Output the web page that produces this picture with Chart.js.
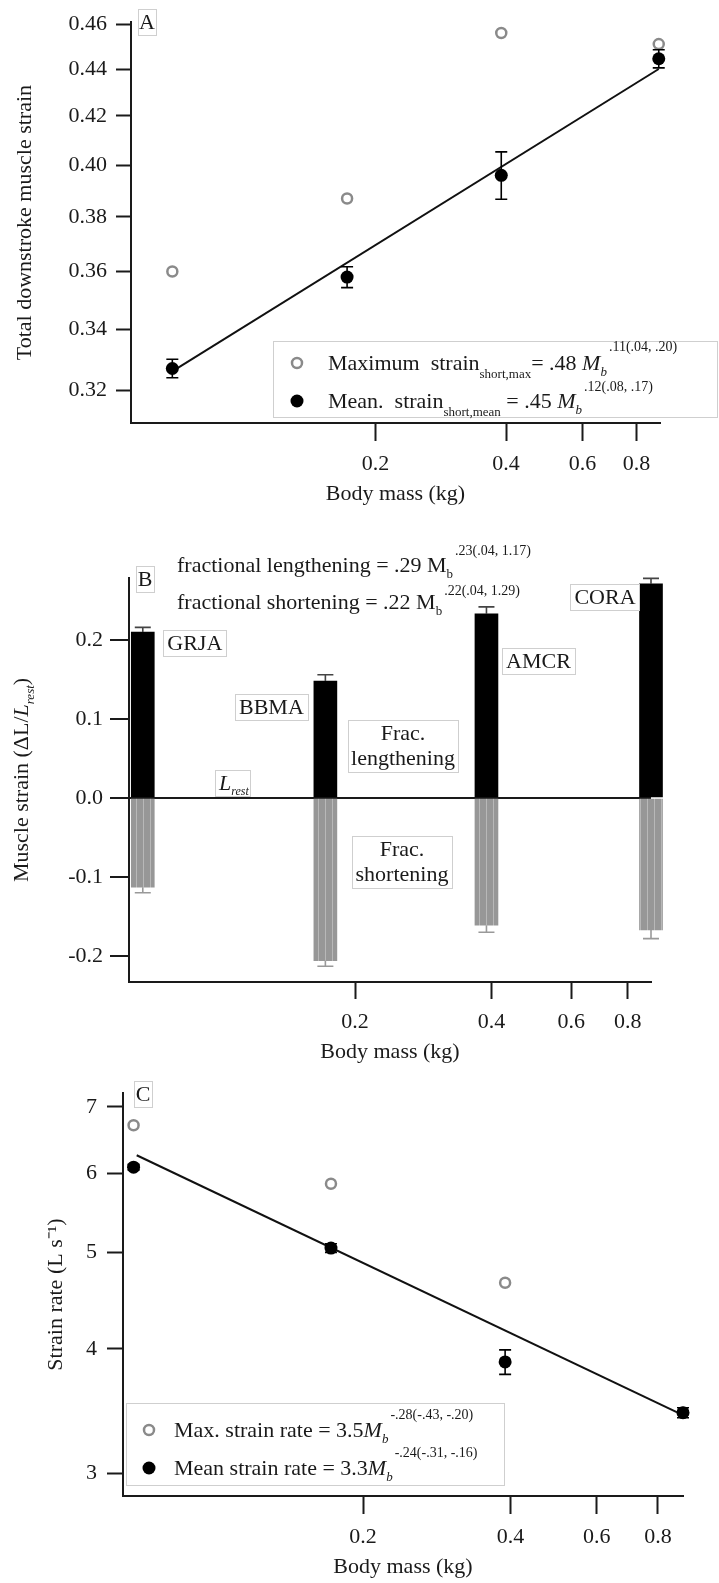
<!DOCTYPE html>
<html>
<head>
<meta charset="utf-8">
<script src="https://cdn.jsdelivr.net/npm/chart.js@4.4.0/dist/chart.umd.min.js"></script>
<style>
  body { margin: 0; background: #fff; }
  #wrap { position: relative; width: 719px; height: 1583px; }
  canvas { position: absolute; left: 0; }
</style>
</head>
<body>
<div id="wrap">
  <canvas id="chartA" width="719" height="515" style="top:0"></canvas>
  <canvas id="chartB" width="719" height="570" style="top:500px"></canvas>
  <canvas id="chartC" width="719" height="523" style="top:1060px"></canvas>
</div>
<script>
const bodyMass = [0.068, 0.172, 0.39, 0.9]
const species = ['GRJA', 'BBMA', 'AMCR', 'CORA']
const massTicks = [0.2, 0.4, 0.6, 0.8]

// A - total downstroke strain
const maxStrain = [0.360, 0.387, 0.456, 0.451]
const meanStrain = [0.327, 0.358, 0.396, 0.4445]
const meanStrainErr = [0.003, 0.0037, 0.0093, 0.004]
const strainFitMass = [0.069, 0.9]
const strainFit = [0.3266, 0.440]
const strainTicks = [0.32, 0.34, 0.36, 0.38, 0.40, 0.42, 0.44, 0.46]

// B - fractional lengthening / shortening
const fracLengthening = [0.210, 0.148, 0.233, 0.271]
const fracLengtheningErr = [0.006, 0.008, 0.009, 0.007]
const fracShortening = [-0.113, -0.206, -0.161, -0.167]
const fracShorteningErr = [0.007, 0.007, 0.009, 0.011]
const muscleStrainTicks = [-0.2, -0.1, 0, 0.1, 0.2]

// C - strain rate
const maxRate = [6.71, 5.86, 4.66, 3.45]
const meanRate = [6.09, 5.05, 3.88, 3.45]
const meanRateErr = [0.04, 0.05, 0.11, 0.04]
const rateFitMass = [0.069, 0.9]
const rateFit = [6.26, 3.43]
const rateTicks = [3, 4, 5, 6, 7]

const FONT = '"Liberation Serif", "Times New Roman", serif'
const INK = '#1a1a1a'
const FRAME = '#cfcfcf'
const OPEN_GREY = '#8a8a8a'

const pts = (xs, ys) => xs.map((x, i) => ({ x: x, y: ys[i] }))

function axis(o) {
    return {
        type: o.type, min: o.min, max: o.max, bounds: 'data', offset: false,
        afterBuildTicks: s => { s.ticks = o.ticks.map(v => ({ value: v })) },
        afterFit: s => { if (s.isHorizontal()) s.height = o.size; else s.width = o.size },
        border: { display: true, color: INK, width: 2 },
        grid: Object.assign({ offset: false, drawOnChartArea: false, tickLength: o.tickLength, tickColor: INK, tickWidth: 2 }, o.grid || {}),
        ticks: { padding: o.pad, color: INK, font: { family: FONT, size: 22 }, autoSkip: false, maxRotation: 0, callback: o.fmt },
        title: o.title
            ? { display: true, text: o.title, color: INK, font: { family: FONT, size: 22 }, padding: o.titlePad }
            : { display: false }
    }
}

function textRuns(ctx, x, y, parts) {
    ctx.save()
    ctx.fillStyle = INK
    ctx.textAlign = 'left'
    ctx.textBaseline = 'alphabetic'
    for (const [t, size = 22, dy = 0, italic = false] of parts) {
        ctx.font = (italic ? 'italic ' : '') + size + 'px ' + FONT
        ctx.fillText(t, x, y + dy)
        x += ctx.measureText(t).width
    }
    ctx.restore()
    return x
}

function runsWidth(ctx, parts) {
    ctx.save()
    let w = 0
    for (const [t, size = 22, dy = 0, italic = false] of parts) {
        ctx.font = (italic ? 'italic ' : '') + size + 'px ' + FONT
        w += ctx.measureText(t).width
    }
    ctx.restore()
    return w
}

function frame(ctx, x, y, w, h) {
    ctx.save()
    ctx.strokeStyle = FRAME
    ctx.lineWidth = 1
    ctx.strokeRect(Math.round(x) + 0.5, Math.round(y) + 0.5, Math.round(w), Math.round(h))
    ctx.restore()
}

function boxedLines(ctx, lines, cx, cy, w, h) {
    frame(ctx, cx - w / 2, cy - h / 2, w, h)
    ctx.save()
    ctx.fillStyle = INK
    ctx.font = '22px ' + FONT
    ctx.textAlign = 'center'
    ctx.textBaseline = 'middle'
    const gap = 25
    lines.forEach((t, i) => ctx.fillText(t, cx, cy + (i - (lines.length - 1) / 2) * gap + 1))
    ctx.restore()
}

function panelLetter(ctx, t, cx, cy) {
    boxedLines(ctx, [t], cx, cy, 18, 26)
}

function legendMarker(ctx, x, y, filled) {
    ctx.save()
    ctx.beginPath()
    if (filled) {
        ctx.arc(x, y, 6.5, 0, Math.PI * 2)
        ctx.fillStyle = '#000'
        ctx.fill()
    } else {
        ctx.arc(x, y, 5, 0, Math.PI * 2)
        ctx.strokeStyle = OPEN_GREY
        ctx.lineWidth = 2.5
        ctx.stroke()
    }
    ctx.restore()
}

function errorBars(sets) {
    return {
        id: 'errorBars',
        afterDatasetsDraw(chart) {
            const { ctx, scales: { x, y } } = chart
            ctx.save()
            sets.forEach(s => {
                ctx.strokeStyle = s.color
                ctx.lineWidth = 1.6
                s.mass.forEach((m, i) => {
                    const px = x.getPixelForValue(m)
                    const v = s.values[i], e = s.errs[i]
                    const top = y.getPixelForValue(s.side === 'down' ? v : v + e)
                    const bot = y.getPixelForValue(s.side === 'up' ? v : v - e)
                    ctx.beginPath()
                    ctx.moveTo(px, top)
                    ctx.lineTo(px, bot)
                    if (s.side !== 'down') { ctx.moveTo(px - s.cap, top); ctx.lineTo(px + s.cap, top) }
                    if (s.side !== 'up') { ctx.moveTo(px - s.cap, bot); ctx.lineTo(px + s.cap, bot) }
                    ctx.stroke()
                })
            })
            ctx.restore()
        }
    }
}

function greyStripes() {
    const tile = document.createElement('canvas')
    tile.width = 7
    tile.height = 2
    const g = tile.getContext('2d')
    g.fillStyle = '#979797'
    g.fillRect(0, 0, 7, 2)
    g.fillStyle = '#b8b8b8'
    g.fillRect(3, 0, 1, 2)
    return g.createPattern(tile, 'repeat')
}

const baseOptions = {
    responsive: false,
    animation: false,
    plugins: { legend: { display: false }, tooltip: { enabled: false } }
}

// ---------- A ----------
new Chart(document.getElementById('chartA'), {
    type: 'scatter',
    data: {
        datasets: [{
            data: pts(strainFitMass, strainFit), showLine: true, borderColor: '#111', borderWidth: 2,
            pointRadius: 0, order: 3, clip: false
        }, {
            data: pts(bodyMass, maxStrain), pointRadius: 5, borderWidth: 2.5, borderColor: OPEN_GREY,
            backgroundColor: '#fff', order: 2, clip: false
        }, {
            data: pts(bodyMass, meanStrain), pointRadius: 6.5, borderWidth: 0, backgroundColor: '#000',
            order: 1, clip: false
        }]
    },
    options: Object.assign({}, baseOptions, {
        layout: { padding: { top: 18, right: 59, left: 0, bottom: 0 } },
        scales: {
            x: axis({ type: 'logarithmic', min: 0.0546, max: 0.906, ticks: massTicks, size: 92, tickLength: 18, pad: 10,
                fmt: v => String(v), title: 'Body mass (kg)', titlePad: { bottom: 8 } }),
            y: axis({ type: 'logarithmic', min: 0.3098, max: 0.4609, ticks: strainTicks, size: 131, tickLength: 15, pad: 9,
                fmt: v => v.toFixed(2), title: 'Total downstroke muscle strain', titlePad: { top: 12 } })
        }
    }),
    plugins: [
        errorBars([{ mass: bodyMass, values: meanStrain, errs: meanStrainErr, side: 'both', cap: 6, color: '#000' }]),
        {
            id: 'notesA',
            afterDraw(chart) {
                const ctx = chart.ctx
                panelLetter(ctx, 'A', 147, 22)
                ctx.save()
                ctx.fillStyle = '#fff'
                ctx.fillRect(273, 341, 444, 76)
                ctx.restore()
                frame(ctx, 273, 341, 444, 76)
                legendMarker(ctx, 297, 363, false)
                let x = textRuns(ctx, 328, 370, [['Maximum  strain'], ['short,max', 13, 8], ['= .48 '], ['M', 22, 0, true], ['b', 13, 6, true]])
                textRuns(ctx, x + 2, 351, [['.11(.04, .20)', 14]])
                legendMarker(ctx, 297, 401, true)
                x = textRuns(ctx, 328, 408, [['Mean.  strain'], ['short,mean', 13, 8], [' = .45 '], ['M', 22, 0, true], ['b', 13, 6, true]])
                textRuns(ctx, x + 2, 391, [['.12(.08, .17)', 14]])
            }
        }
    ]
})

// ---------- B ----------
const stripes = greyStripes()

new Chart(document.getElementById('chartB'), {
    type: 'bar',
    data: {
        datasets: [{
            data: pts(bodyMass, fracLengthening), backgroundColor: '#000', barThickness: 23,
            grouped: false, clip: false, borderWidth: 0
        }, {
            data: pts(bodyMass, fracShortening), backgroundColor: stripes, barThickness: 23,
            grouped: false, clip: false, borderWidth: 0
        }]
    },
    options: Object.assign({}, baseOptions, {
        layout: { padding: { top: 78, right: 68, left: 0, bottom: 0 } },
        scales: {
            x: axis({ type: 'logarithmic', min: 0.0634, max: 0.9, ticks: massTicks, size: 88, tickLength: 17, pad: 10,
                fmt: v => String(v), title: 'Body mass (kg)', titlePad: { bottom: 5 } }),
            y: axis({ type: 'linear', min: -0.2329, max: 0.2785, ticks: muscleStrainTicks, size: 129, tickLength: 19, pad: 7,
                fmt: v => v.toFixed(1),
                grid: {
                    drawOnChartArea: true, lineWidth: 2,
                    color: c => (c.tick && c.tick.value === 0) ? INK : 'rgba(0,0,0,0)'
                } })
        }
    }),
    plugins: [
        errorBars([
            { mass: bodyMass, values: fracLengthening, errs: fracLengtheningErr, side: 'up', cap: 8, color: '#444' },
            { mass: bodyMass, values: fracShortening, errs: fracShorteningErr, side: 'down', cap: 8, color: '#999' }
        ]),
        {
            id: 'notesB',
            afterDraw(chart) {
                const { ctx, scales: { x, y } } = chart
                let e = textRuns(ctx, 177, 72, [['fractional lengthening = .29 M'], ['b', 13, 6]])
                textRuns(ctx, e + 2, 55, [['.23(.04, 1.17)', 14]])
                e = textRuns(ctx, 177, 109, [['fractional shortening = .22 M'], ['b', 13, 6]])
                textRuns(ctx, e + 2, 95, [['.22(.04, 1.29)', 14]])
                panelLetter(ctx, 'B', 145, 79)

                // species tags beside the bars
                const tagSpots = [[52, 0.196], [-54, 0.115], [52, 0.173], [-46, 0.254]]
                species.forEach((name, i) => {
                    const [dx, v] = tagSpots[i]
                    ctx.save()
                    ctx.font = '22px ' + FONT
                    const w = ctx.measureText(name).width + 8
                    ctx.restore()
                    boxedLines(ctx, [name], x.getPixelForValue(bodyMass[i]) + dx, y.getPixelForValue(v), w, 26)
                })
                boxedLines(ctx, ['Frac.', 'lengthening'], 403, y.getPixelForValue(0.066), 110, 52)
                boxedLines(ctx, ['Frac.', 'shortening'], 402, y.getPixelForValue(-0.081), 100, 52)

                // resting length marker on the zero line
                const ly = y.getPixelForValue(0.019)
                frame(ctx, 215, ly - 13, 35, 26)
                textRuns(ctx, 219, ly + 7, [['L', 22, 0, true], ['rest', 12, 5, true]])

                // y title with subscript
                const parts = [['Muscle strain (ΔL/'], ['L', 22, 0, true], ['rest', 13, 6, true], [')']]
                const w = runsWidth(ctx, parts)
                ctx.save()
                ctx.translate(21, (chart.chartArea.top + chart.chartArea.bottom) / 2)
                ctx.rotate(-Math.PI / 2)
                textRuns(ctx, -w / 2, 7, parts)
                ctx.restore()
            }
        }
    ]
})

// ---------- C ----------
new Chart(document.getElementById('chartC'), {
    type: 'scatter',
    data: {
        datasets: [{
            data: pts(rateFitMass, rateFit), showLine: true, borderColor: '#111', borderWidth: 2,
            pointRadius: 0, order: 3, clip: false
        }, {
            data: pts(bodyMass, maxRate), pointRadius: 5, borderWidth: 2.5, borderColor: OPEN_GREY,
            backgroundColor: '#fff', order: 2, clip: false
        }, {
            data: pts(bodyMass, meanRate), pointRadius: 6.5, borderWidth: 0, backgroundColor: '#000',
            order: 1, clip: false
        }]
    },
    options: Object.assign({}, baseOptions, {
        layout: { padding: { top: 33, right: 36, left: 0, bottom: 0 } },
        scales: {
            x: axis({ type: 'logarithmic', min: 0.0647, max: 0.9, ticks: massTicks, size: 87, tickLength: 18, pad: 10,
                fmt: v => String(v), title: 'Body mass (kg)', titlePad: { bottom: 3 } }),
            y: axis({ type: 'logarithmic', min: 2.845, max: 7.23, ticks: rateTicks, size: 123, tickLength: 16, pad: 10,
                fmt: v => String(v), title: 'Strain rate (L s⁻¹)', titlePad: { top: 43 } })
        }
    }),
    plugins: [
        errorBars([{ mass: bodyMass, values: meanRate, errs: meanRateErr, side: 'both', cap: 6, color: '#000' }]),
        {
            id: 'notesC',
            afterDraw(chart) {
                const ctx = chart.ctx
                panelLetter(ctx, 'C', 143, 34)
                frame(ctx, 126, 343, 378, 82)
                legendMarker(ctx, 149, 370, false)
                let x = textRuns(ctx, 174, 377, [['Max. strain rate = 3.5'], ['M', 22, 0, true], ['b', 13, 6, true]])
                textRuns(ctx, x + 2, 359, [['-.28(-.43, -.20)', 14]])
                legendMarker(ctx, 149, 408, true)
                x = textRuns(ctx, 174, 415, [['Mean strain rate = 3.3'], ['M', 22, 0, true], ['b', 13, 6, true]])
                textRuns(ctx, x + 2, 397, [['-.24(-.31, -.16)', 14]])
            }
        }
    ]
})
</script>
</body>
</html>
